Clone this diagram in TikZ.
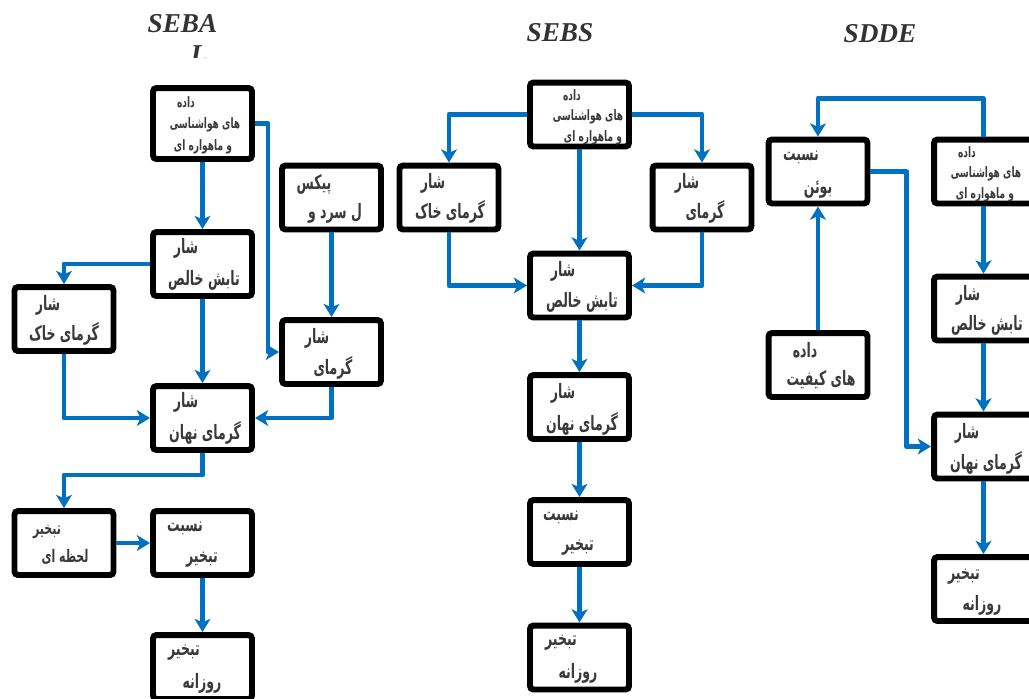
\documentclass[tikz,border=0pt]{standalone}
\usepackage{fontspec}
\usetikzlibrary{arrows.meta,shadows}
\TeXXeTstate=1
\newfontfamily\fafont[Script=Arabic,FakeStretch=0.63]{DejaVu Sans}
\newfontfamily\ttlfont{Liberation Serif}
\definecolor{lnblue}{HTML}{0070C0}
\definecolor{txtgray}{HTML}{3A3A3A}
\begin{document}
\begin{tikzpicture}[x=0.02cm,y=-0.02cm,
 box/.style={draw=black,line width=3.4pt,fill=white,rounded corners=2pt,inner sep=0pt,
   minimum width=1.98cm,minimum height=1.28cm,
   drop shadow={shadow xshift=1.3pt,shadow yshift=-1.3pt,fill=black!22,opacity=1}},
 tallbox/.style={box,minimum height=1.42cm},
 fa/.style={font=\fafont\bfseries\fontsize{11.3}{13}\selectfont,text=txtgray,inner sep=0pt},
 fam/.style={font=\fafont\bfseries\fontsize{9.9}{11}\selectfont,text=txtgray,inner sep=0pt},
 fas/.style={font=\fafont\bfseries\fontsize{8.2}{9}\selectfont,text=txtgray,inner sep=0pt},
 conn/.style={draw=lnblue,line width=2.8pt,line join=round,-{Stealth[length=7.5pt,width=9pt,inset=2pt]}},
 ttl/.style={font=\ttlfont\bfseries\itshape\fontsize{15.5}{18}\selectfont,text=black!80,inner sep=0pt}]
\useasboundingbox (0,0) rectangle (1029,698);
\begin{scope}
\clip (0,0) rectangle (1029,698);

% ---------- titles ----------
\node[ttl] (t1) at (182.5,24) {SEBA};
\begin{scope}
\clip (150,40) rectangle (240,57);
\node[ttl,anchor=base] (t1b) at (199,63) {L};
\end{scope}
\node[ttl] (t2) at (560,33) {SEBS};
\node[ttl] (t3) at (880,34) {SDDE};

% ---------- SEBAL boxes ----------
\node[tallbox] (A1) at (202.5,123.5) {};
\node[box] (P1) at (331.5,197.5) {};
\node[box] (N1) at (202.5,264) {};
\node[box] (K1) at (64,319) {};
\node[box] (S1) at (331.5,352) {};
\node[box] (L1) at (202.5,418) {};
\node[box] (I1) at (64,543) {};
\node[box] (E1) at (202.5,543) {};
\node[box] (D1) at (202.5,667) {};

% ---------- SEBS boxes ----------
\node[box] (B2) at (579.5,114.5) {};
\node[box] (K2) at (449,197.5) {};
\node[box] (S2) at (702,197.5) {};
\node[box] (N2) at (579.5,285.5) {};
\node[box] (L2) at (579.5,407) {};
\node[box] (E2) at (579.5,532) {};
\node[box] (D2) at (579.5,657.5) {};

% ---------- SDDE boxes ----------
\node[box] (W3) at (818,171.5) {};
\node[box] (C3) at (983.5,171.5) {};
\node[box] (Q3) at (818,365) {};
\node[box] (N3) at (983.5,308.5) {};
\node[box] (L3) at (983.5,446.5) {};
\node[box] (D3) at (983.5,589) {};

% ---------- SEBAL connectors ----------
\draw[conn] (A1.south) -- (N1.north);
\draw[conn] (A1.east) -- ++(13,0) |- (S1.west);
\draw[conn] (P1.south) -- (S1.north);
\draw[conn] (N1.west) -| (K1.north);
\draw[conn] (N1.south) -- (L1.north);
\draw[conn] (K1.south) |- (L1.west);
\draw[conn] (S1.south) |- (L1.east);
\draw[conn] (L1.south) -- ++(0,22) -| (I1.north);
\draw[conn] (I1.east) -- (E1.west);
\draw[conn] (E1.south) -- (D1.north);

% ---------- SEBS connectors ----------
\draw[conn] (B2.west) -| (K2.north);
\draw[conn] (B2.east) -| (S2.north);
\draw[conn] (B2.south) -- (N2.north);
\draw[conn] (K2.south) |- (N2.west);
\draw[conn] (S2.south) |- (N2.east);
\draw[conn] (N2.south) -- (L2.north);
\draw[conn] (L2.south) -- (E2.north);
\draw[conn] (E2.south) -- (D2.north);

% ---------- SDDE connectors ----------
\draw[conn] (C3.north) -- ++(0,-38) -| (W3.north);
\draw[conn] (C3.south) -- (N3.north);
\draw[conn] (Q3.north) -- (W3.south);
\draw[conn] (W3.east) -- ++(36,0) |- (L3.west);
\draw[conn] (N3.south) -- (L3.north);
\draw[conn] (L3.south) -- (D3.north);

% ---------- SEBAL texts ----------
\node[fas] (a1a) at (186,102) {\beginR داده\endR};
\node[fas] (a1b) at (205,125) {\beginR های هواشناسی\endR};
\node[fas] (a1c) at (203,147) {\beginR و ماهواره ای\endR};
\node[fa] (p1a) at (314,184) {\beginR پیکس\endR};
\node[fa] (p1b) at (335,213) {\beginR ل سرد و\endR};
\node[fa] (n1a) at (186,248) {\beginR شار\endR};
\node[fa] (n1b) at (204,280) {\beginR تابش خالص\endR};
\node[fa] (k1a) at (48,305) {\beginR شار\endR};
\node[fa] (k1b) at (64,334) {\beginR گرمای خاک\endR};
\node[fa] (s1a) at (317,338) {\beginR شار\endR};
\node[fa] (s1b) at (333,368) {\beginR گرمای\endR};
\node[fa] (l1a) at (186,402) {\beginR شار\endR};
\node[fa] (l1b) at (205,433) {\beginR گرمای نهان\endR};
\node[fam] (i1a) at (47,532) {\beginR تبخیر\endR};
\node[fam] (i1b) at (65,557) {\beginR لحظه ای\endR};
\node[fa] (e1a) at (185,528) {\beginR نسبت\endR};
\node[fa] (e1b) at (202,560) {\beginR تبخیر\endR};
\node[fa] (d1a) at (184,653) {\beginR تبخیر\endR};
\node[fa] (d1b) at (202,683) {\beginR روزانه\endR};

% ---------- SEBS texts ----------
\node[fas] (b2a) at (572,95) {\beginR داده\endR};
\node[fas] (b2b) at (588,117) {\beginR های هواشناسی\endR};
\node[fas] (b2c) at (593,138) {\beginR و ماهواره ای\endR};
\node[fa] (k2a) at (433,183) {\beginR شار\endR};
\node[fa] (k2b) at (450,212) {\beginR گرمای خاک\endR};
\node[fa] (s2a) at (687,183) {\beginR شار\endR};
\node[fa] (s2b) at (705,212) {\beginR گرمای\endR};
\node[fa] (n2a) at (563,271) {\beginR شار\endR};
\node[fa] (n2b) at (582,302) {\beginR تابش خالص\endR};
\node[fa] (l2a) at (563,393) {\beginR شار\endR};
\node[fa] (l2b) at (582,424) {\beginR گرمای نهان\endR};
\node[fa] (e2a) at (561,517) {\beginR نسبت\endR};
\node[fa] (e2b) at (578,548) {\beginR تبخیر\endR};
\node[fa] (d2a) at (561,643) {\beginR تبخیر\endR};
\node[fa] (d2b) at (578,673) {\beginR روزانه\endR};

% ---------- SDDE texts ----------
\node[fa] (w3a) at (801,157) {\beginR نسبت\endR};
\node[fa] (w3b) at (818,190) {\beginR بوئن\endR};
\node[fas] (c3a) at (967,152) {\beginR داده\endR};
\node[fas] (c3b) at (986,174) {\beginR های هواشناسی\endR};
\node[fas] (c3c) at (985,195) {\beginR و ماهواره ای\endR};
\node[fa] (q3a) at (805,350) {\beginR داده\endR};
\node[fa] (q3b) at (821,380) {\beginR های کیفیت\endR};
\node[fa] (n3a) at (968,295) {\beginR شار\endR};
\node[fa] (n3b) at (987,325) {\beginR تابش خالص\endR};
\node[fa] (l3a) at (967,433) {\beginR شار\endR};
\node[fa] (l3b) at (986,463) {\beginR گرمای نهان\endR};
\node[fa] (d3a) at (964,577) {\beginR تبخیر\endR};
\node[fa] (d3b) at (982,605) {\beginR روزانه\endR};
\end{scope}
\end{tikzpicture}
\end{document}
